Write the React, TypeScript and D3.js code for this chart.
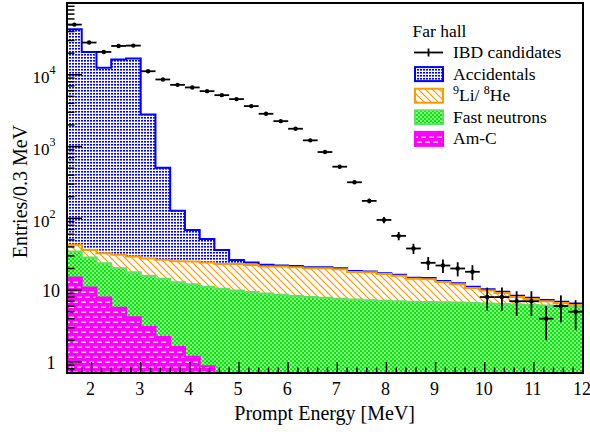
import React from 'react';
import * as d3 from 'd3';

// Bin low edges (0.3 MeV bins), prompt energy in MeV
const binLowEdges = [1.5, 1.8, 2.1, 2.4, 2.7, 3.0, 3.3, 3.6, 3.9, 4.2, 4.5, 4.8, 5.1, 5.4, 5.7, 6.0, 6.3, 6.6, 6.9, 7.2, 7.5, 7.8, 8.1, 8.4, 8.7, 9.0, 9.3, 9.6, 9.9, 10.2, 10.5, 10.8, 11.1, 11.4, 11.7];
const BIN_WIDTH = 0.3;

const ibdCandidates = [50000, 28100, 20800, 25200, 25500, 11200, 8600, 7240, 6660, 5910, 5200, 4580, 3660, 2860, 2260, 1770, 1220, 839, 524, 318, 175, 95, 57, 38, 24, 22, 20, 18, 8, 8, 7, 7, 4, 6, 5];
const accidentals = [42960, 20760, 12470, 16270, 16770, 2770, 480, 102, 44, 27.5, 13.2, 3.1, 1.8, 1.2, 0.7, 0.7, 0.6, 0.6, 0.6, 0.6, 0.5, 0.5, 0.5, 0.5, 0.5, 0.4, 0.4, 0.4, 0.4, 0.4, 0.35, 0.3, 0.3, 0.3, 0.3];
const li9He8 = [8.3, 7.9, 9.0, 10.8, 11.5, 11.7, 12.0, 12.4, 12.9, 13.0, 12.7, 13.2, 13.0, 12.3, 12.7, 12.6, 12.2, 12.4, 11.9, 10.5, 10.5, 9.6, 8.9, 7.5, 7.35, 6.2, 5.4, 4.1, 3.4, 2.7, 1.7, 1.3, 0.9, 0.6, 0.3];
const fastNeutrons = [19.4, 17.5, 15.8, 14.5, 13.6, 12.7, 12.2, 11.3, 10.9, 10.3, 9.8, 9.45, 9.07, 8.76, 8.42, 8.17, 7.9, 7.72, 7.54, 7.35, 7.16, 7.07, 6.97, 6.88, 6.83, 6.78, 6.69, 6.59, 6.49, 6.39, 6.29, 6.19, 6.09, 5.99, 5.89];
const amC = [15, 10.9, 7.9, 5.7, 4.2, 3.06, 2.22, 1.61, 1.18, 0.87, 0.62, 0.45, 0.33, 0.24, 0.18, 0.13, 0.1, 0.08, 0.06, 0.05, 0.04, 0.03, 0.03, 0.02, 0.02, 0.02, 0.01, 0.01, 0.01, 0.01, 0.01, 0.01, 0.01, 0.01, 0.01];

const xTickLabels = [2, 3, 4, 5, 6, 7, 8, 9, 10, 11, 12];
const yTickLabels = [1, 10, 100, 1000, 10000];

const FONT = '"Liberation Serif", "DejaVu Serif", serif';

export default function App() {
  const W = 590, H = 432;
  const left = 67, right = 583, top = 3, bottom = 373;
  const x = d3.scaleLinear().domain([1.5, 12]).range([left, right]);
  const y = d3.scaleLog().domain([0.7, 1e5]).range([bottom, top]).clamp(true);

  // stacking (bottom to top): Am-C, fast neutrons, Li/He, accidentals
  const order = [amC, fastNeutrons, li9He8, accidentals];
  const cum: number[][] = [];
  order.forEach((s, k) => {
    cum.push(s.map((v, i) => v + (k > 0 ? cum[k - 1][i] : 0)));
  });

  const stepPts = (vals: number[]) => {
    const pts: [number, number][] = [[x(binLowEdges[0]), bottom + 5]];
    vals.forEach((v, i) => pts.push([x(binLowEdges[i]), y(v)]));
    const lastEdge = binLowEdges[binLowEdges.length - 1] + BIN_WIDTH;
    pts.push([x(lastEdge), y(vals[vals.length - 1])]);
    pts.push([x(lastEdge), bottom + 5]);
    return pts;
  };
  const line = d3.line().curve(d3.curveStepAfter);

  const layers = [
    { vals: cum[3], fill: 'url(#patAcc)', stroke: '#0000ff' },
    { vals: cum[2], fill: 'url(#patLi)', stroke: '#ff9900' },
    { vals: cum[1], fill: 'url(#patFn)', stroke: '#66dd66' },
    { vals: cum[0], fill: 'url(#patAmc)', stroke: '#ff00ff' },
  ];

  // ticks
  const xMinor = d3.range(16, 121, 2).map((v) => v / 10).filter((v) => Math.abs(v - Math.round(v)) > 1e-6);
  const yMinor: number[] = [];
  [0.1, 1, 10, 100, 1000, 10000].forEach((d) => {
    for (let k = 2; k <= 9; k++) {
      const v = d * k;
      if (v >= 0.7 && v <= 1e5) yMinor.push(v);
    }
  });

  const legendRows = [
    { key: 'ibd', label: 'IBD candidates' },
    { key: 'acc', label: 'Accidentals', fill: 'url(#patAcc)', stroke: '#0000ff' },
    { key: 'li', label: '', fill: 'url(#patLi)', stroke: '#ff9900' },
    { key: 'fn', label: 'Fast neutrons', fill: 'url(#patFn)', stroke: '#66dd66' },
    { key: 'amc', label: 'Am-C', fill: 'url(#patAmc)', stroke: '#ff00ff' },
  ];

  return (
    <svg width={W} height={H} style={{ position: 'absolute', left: 0, top: 0, background: '#fff' }} fontFamily={FONT}>
      <defs>
        <pattern id="patAcc" patternUnits="userSpaceOnUse" width="3" height="3">
          <rect width="3" height="3" fill="#fff" />
          <rect x="0" y="0" width="2" height="1.6" fill="#0000ff" />
        </pattern>
        <pattern id="patLi" patternUnits="userSpaceOnUse" width="7" height="7">
          <rect width="7" height="7" fill="#fff" />
          <path d="M-1,6 L1,8 M0,0 L7,7 M6,-1 L8,1" stroke="#ff9900" strokeWidth="1.2" />
        </pattern>
        <pattern id="patFn" patternUnits="userSpaceOnUse" width="4" height="4">
          <rect width="4" height="4" fill="#00ee00" />
          <rect x="0.25" y="0.25" width="1.5" height="1.5" fill="#fff" />
          <rect x="2.25" y="2.25" width="1.5" height="1.5" fill="#fff" />
        </pattern>
        <pattern id="patAmc" patternUnits="userSpaceOnUse" width="8" height="10">
          <rect width="8" height="10" fill="#ff00ff" />
          <rect x="1" y="1.5" width="5" height="1.5" fill="#ffd0ff" />
          <rect x="5" y="6.5" width="5" height="1.5" fill="#ffd0ff" />
          <rect x="-3" y="6.5" width="5" height="1.5" fill="#ffd0ff" />
        </pattern>
        <clipPath id="plotClip">
          <rect x={left} y={top} width={right - left} height={bottom - top} />
        </clipPath>
      </defs>

      <g clipPath="url(#plotClip)">
        {layers.map((l, i) => {
          const pts = stepPts(l.vals);
          return (
            <g key={i}>
              <path d={line(pts) + 'Z'} fill={l.fill} stroke="none" />
              <path d={line(pts) || ''} fill="none" stroke={l.stroke} strokeWidth={2} />
            </g>
          );
        })}

        {/* IBD candidates */}
        {ibdCandidates.map((v, i) => {
          const xc = x(binLowEdges[i] + BIN_WIDTH / 2);
          const err = Math.sqrt(v);
          return (
            <g key={'p' + i} stroke="#000" strokeWidth={1.8}>
              <line x1={x(binLowEdges[i])} x2={x(binLowEdges[i] + BIN_WIDTH)} y1={y(v)} y2={y(v)} />
              <line x1={xc} x2={xc} y1={y(v + err)} y2={y(Math.max(v - err, 0.7))} />
              <circle cx={xc} cy={y(v)} r={2.2} fill="#000" stroke="none" />
            </g>
          );
        })}
      </g>

      {/* axes ticks */}
      <g stroke="#000" strokeWidth={1.5}>
        {xTickLabels.map((t) => (
          <line key={'xM' + t} x1={x(t)} x2={x(t)} y1={bottom} y2={bottom - 11} />
        ))}
        {xMinor.map((t) => (
          <line key={'xm' + t} x1={x(t)} x2={x(t)} y1={bottom} y2={bottom - 5.5} />
        ))}
        {yTickLabels.map((t) => (
          <line key={'yM' + t} x1={left} x2={left + 15} y1={y(t)} y2={y(t)} />
        ))}
        {yMinor.map((t) => (
          <line key={'ym' + t} x1={left} x2={left + 7.5} y1={y(t)} y2={y(t)} />
        ))}
      </g>

      {/* frame */}
      <rect x={left} y={top} width={right - left} height={bottom - top} fill="none" stroke="#000" strokeWidth={2} />

      {/* x tick labels */}
      {xTickLabels.map((t) => (
        <text key={'xl' + t} x={x(t) - 1} y={395} fontSize={18} textAnchor="middle" fill="#000">
          {t}
        </text>
      ))}

      {/* y tick labels */}
      {yTickLabels.map((t) => {
        const yy = y(t);
        if (t === 1) return <text key="yl1" x={55.5} y={yy + 7} fontSize={18} textAnchor="end">1</text>;
        if (t === 10) return <text key="yl10" x={60} y={yy + 7} fontSize={18} textAnchor="end">10</text>;
        const exp = Math.round(Math.log10(t));
        return (
          <text key={'yl' + t} x={55.5} y={yy + 8.5} fontSize={17} textAnchor="end">
            10<tspan dy={-9} fontSize={12}>{exp}</tspan>
          </text>
        );
      })}

      {/* axis titles */}
      <text x={415} y={420} fontSize={20} textAnchor="end">Prompt Energy [MeV]</text>
      <text transform="translate(27,125) rotate(-90)" fontSize={20} textAnchor="end">Entries/0.3 MeV</text>

      {/* legend */}
      <text x={412.5} y={36.5} fontSize={17.5}>Far hall</text>
      {legendRows.map((r, i) => {
        const cy = 52.5 + i * 21.6;
        return (
          <g key={r.key}>
            {r.key === 'ibd' ? (
              <g stroke="#000" strokeWidth={1.8}>
                <line x1={414} x2={443} y1={cy} y2={cy} />
                <line x1={428.5} x2={428.5} y1={cy - 4} y2={cy + 4} />
              </g>
            ) : (
              <rect x={415} y={cy - 7} width={28} height={14} fill={r.fill} stroke={r.stroke} strokeWidth={2} />
            )}
            {r.key === 'li' ? (
              <text x={453} y={cy + 5.5} fontSize={17.5}>
                <tspan fontSize={12} dy={-7}>9</tspan>
                <tspan dy={7}>Li/ </tspan>
                <tspan fontSize={12} dy={-7}>8</tspan>
                <tspan dy={7}>He</tspan>
              </text>
            ) : (
              <text x={453} y={cy + 5.5} fontSize={17.5}>{r.label}</text>
            )}
          </g>
        );
      })}
    </svg>
  );
}
